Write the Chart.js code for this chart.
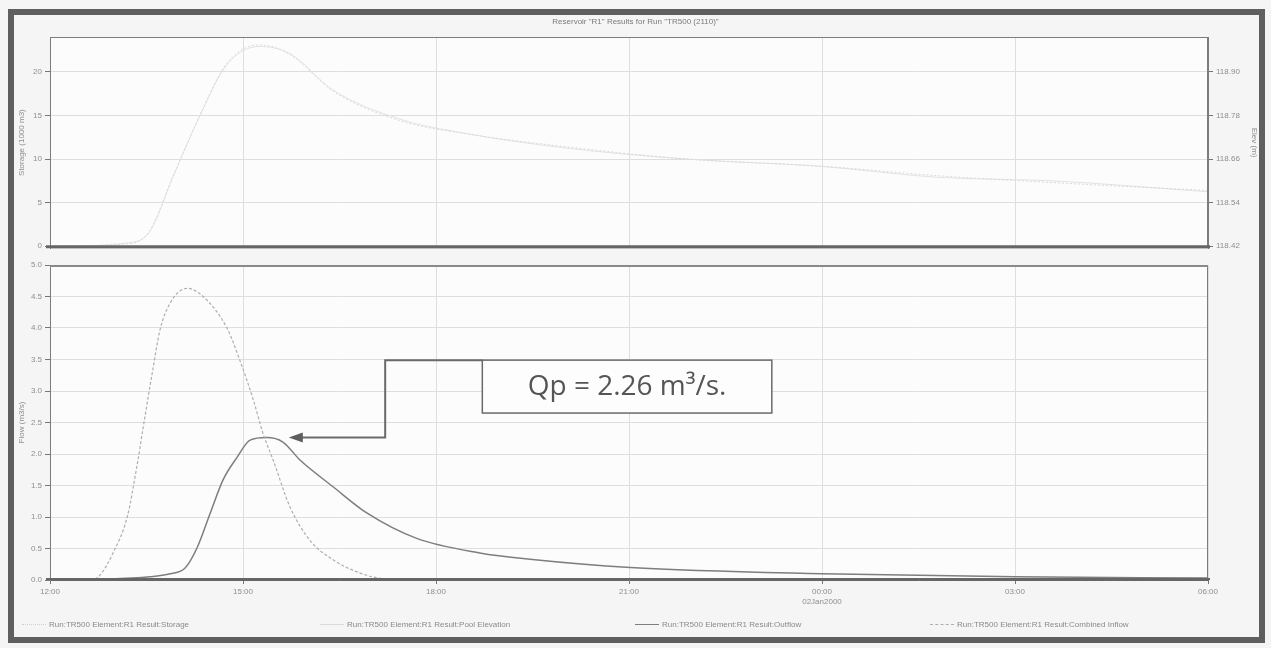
<!DOCTYPE html>
<html><head><meta charset="utf-8">
<script src="https://cdn.jsdelivr.net/npm/chart.js@4.4.1/dist/chart.umd.min.js"></script>
<style>
html,body{margin:0;padding:0;background:#efefef;}
#wrap{position:relative;width:1271px;height:648px;overflow:hidden;background:#f5f5f5;font-family:"Liberation Sans",Arial,sans-serif;}
#frame{position:absolute;left:8px;top:9px;width:1245px;height:622px;border:6px solid #5f5f5f;pointer-events:none;}
#title{position:absolute;left:0;width:1271px;top:17px;text-align:center;font-size:8px;color:#7a7a7a;}
#c1{position:absolute;left:0;top:0;}
#c2{position:absolute;left:0;top:256px;}
.lg{position:absolute;top:620px;font-size:8px;color:#8a8a8a;white-space:nowrap;height:10px;line-height:10px;}
.lg span.s{display:inline-block;width:24px;height:0;vertical-align:middle;margin-right:3px;}
</style></head>
<body><div id="wrap">
<canvas id="c1" width="1271" height="256"></canvas>
<canvas id="c2" width="1271" height="392"></canvas>
<div id="title"></div>
<div id="legend"></div>
<div id="frame"></div>
</div>
<script>
// ---- data (time in hours from start) ----
const chartTitle = 'Reservoir "R1" Results for Run "TR500 (2110)"';
const xTickLabels = ['12:00','15:00','18:00','21:00','00:00','03:00','06:00'];
const xDateLabel = '02Jan2000';
const storageTicks = [0,5,10,15,20];
const elevTicks = [118.42,118.54,118.66,118.78,118.90];
const flowTicks = [0,0.5,1,1.5,2,2.5,3,3.5,4,4.5,5];

const storageTime = [0,1.24,1.55,1.91,2.33,2.75,3.26,3.73,4.4,5.44,6.48,8.04,9.9,11.97,13.79,15.59,18];
const storage     = [0,0.3,1.8,8.0,15.0,21.0,23.1,22,17.8,14.4,12.9,11.4,10,9.2,8.1,7.3,6.4];
const elevation   = [118.42,118.43,118.46,118.61,118.78,118.92,118.97,118.95,118.85,118.77,118.73,118.69,118.66,118.64,118.61,118.60,118.57];

const inflowTime = [0,0.62,0.78,0.98,1.2,1.35,1.45,1.59,1.71,1.87,2.13,2.38,2.75,2.95,3.16,3.31,3.47,3.73,4.04,4.4,4.82,5.18,5.75,12,18];
const inflow     = [0,0,0.08,0.43,1.0,1.8,2.43,3.29,3.97,4.4,4.63,4.5,4.0,3.49,2.86,2.33,1.9,1.16,0.63,0.32,0.11,0.02,0,0,0];

const outflowTime = [0,0.78,1.55,1.87,2.1,2.29,2.49,2.69,2.91,3.11,3.37,3.62,3.89,4.4,4.93,5.7,6.68,7.46,9.02,12.0,15.0,18.0];
const outflow     = [0,0.01,0.05,0.1,0.19,0.52,1.06,1.59,1.95,2.22,2.26,2.19,1.9,1.48,1.06,0.66,0.43,0.33,0.2,0.1,0.05,0.03];

const seriesNames = [
  'Run:TR500 Element:R1 Result:Storage',
  'Run:TR500 Element:R1 Result:Pool Elevation',
  'Run:TR500 Element:R1 Result:Outflow',
  'Run:TR500 Element:R1 Result:Combined Inflow'
];

const pts = (ts, vs) => ts.map((t,i)=>({x:t,y:vs[i]}));
const tickFont = {family:'"Liberation Sans", Arial, sans-serif', size:8};
const tickColor = '#8e8e8e';
const gridColor = '#dedede';

document.getElementById('title').textContent = chartTitle;

const panelPlugin = {
  id:'panel',
  beforeDraw(chart){
    const {ctx, chartArea:a} = chart;
    ctx.save(); ctx.fillStyle='#fcfcfc';
    ctx.fillRect(a.left,a.top,a.right-a.left,a.bottom-a.top); ctx.restore();
  },
  afterDraw(chart, args, opts){
    const {ctx, chartArea:a} = chart;
    ctx.save();
    ctx.strokeStyle='#7c7c7c'; ctx.lineWidth=1;
    ctx.strokeRect(a.left+0.5,a.top+0.5,a.right-a.left-1,a.bottom-a.top-1);
    ctx.strokeStyle=opts.topColor||'#7c7c7c'; ctx.lineWidth=opts.topWidth||1;
    ctx.beginPath(); ctx.moveTo(a.left,a.top+ (opts.topWidth||1)/2); ctx.lineTo(a.right,a.top+(opts.topWidth||1)/2); ctx.stroke();
    ctx.strokeStyle=opts.bottomColor||'#666'; ctx.lineWidth=opts.bottomWidth||2;
    ctx.beginPath(); ctx.moveTo(a.left-4,a.bottom-(opts.bottomWidth||2)/2); ctx.lineTo(a.right+2,a.bottom-(opts.bottomWidth||2)/2); ctx.stroke();
    ctx.restore();
  }
};

// ---- top panel: storage & pool elevation ----
new Chart(document.getElementById('c1'), {
  type:'line',
  data:{datasets:[
    {label:seriesNames[0], data:pts(storageTime,storage), yAxisID:'y', borderColor:'#d9d9d9', borderWidth:1, borderDash:[2,2], pointRadius:0, cubicInterpolationMode:'monotone'},
    {label:seriesNames[1], data:pts(storageTime,elevation), yAxisID:'y2', borderColor:'#e2e2e2', borderWidth:1, pointRadius:0, cubicInterpolationMode:'monotone'}
  ]},
  options:{
    responsive:false, animation:false, events:[],
    layout:{padding:{left:0,right:0,top:37,bottom:1}},
    plugins:{legend:{display:false}, tooltip:{enabled:false}, panel:{bottomWidth:3, bottomColor:'#666'}},
    scales:{
      x:{type:'linear', min:0, max:18, ticks:{display:false, stepSize:3}, grid:{color:gridColor, drawTicks:false}, border:{display:false}, afterFit:s=>{s.height=0;}},
      y:{position:'left', min:-0.22, max:24,
         afterBuildTicks:s=>{s.ticks=storageTicks.map(v=>({value:v}));},
         ticks:{font:tickFont, color:tickColor, padding:3, callback:v=>String(v)},
         grid:{color:gridColor, tickLength:5, tickColor:'#777'}, border:{color:'#7c7c7c'},
         title:{display:true, text:'Storage (1000 m3)', font:tickFont, color:tickColor, padding:{top:17,bottom:0}},
         afterFit:s=>{s.width=50;}},
      y2:{position:'right', min:118.4147, max:118.996,
         afterBuildTicks:s=>{s.ticks=elevTicks.map(v=>({value:v}));},
         ticks:{font:tickFont, color:tickColor, padding:3, callback:v=>Number(v).toFixed(2)},
         grid:{drawOnChartArea:false, tickLength:5, tickColor:'#777'}, border:{color:'#7c7c7c'},
         title:{display:true, text:'Elev (m)', font:tickFont, color:tickColor, padding:{top:12,bottom:0}},
         afterFit:s=>{s.width=63;}}
    }
  },
  plugins:[panelPlugin]
});

// ---- annotation plugin for bottom panel ----
const annotationPlugin = {
  id:'qpnote',
  afterDatasetsDraw(chart){
    const {ctx, scales:{x,y}} = chart;
    const peak = Math.max(...outflow);
    const pi = outflow.indexOf(peak);
    const px = x.getPixelForValue(outflowTime[pi]), py = y.getPixelForValue(peak);
    const bl = x.getPixelForValue(6.72), br = x.getPixelForValue(11.22);
    const bt = y.getPixelForValue(3.49), bb = y.getPixelForValue(2.65);
    const ex = x.getPixelForValue(5.21);
    const tipX = px + 22, tipY = py;
    ctx.save();
    ctx.strokeStyle='#6a6a6a'; ctx.lineWidth=2;
    ctx.beginPath();
    ctx.moveTo(bl,bt); ctx.lineTo(ex,bt); ctx.lineTo(ex,tipY); ctx.lineTo(tipX+12,tipY);
    ctx.stroke();
    ctx.fillStyle='#5e5e5e';
    ctx.beginPath(); ctx.moveTo(tipX,tipY); ctx.lineTo(tipX+14,tipY-5); ctx.lineTo(tipX+14,tipY+5); ctx.closePath(); ctx.fill();
    ctx.fillStyle='#fdfdfd'; ctx.fillRect(bl,bt,br-bl,bb-bt);
    ctx.strokeStyle='#6a6a6a'; ctx.lineWidth=1.5; ctx.strokeRect(bl,bt,br-bl,bb-bt);
    ctx.fillStyle='#555'; ctx.font='28px "Open Sans", sans-serif';
    ctx.textAlign='center'; ctx.textBaseline='middle';
    ctx.fillText('Qp = '+peak.toFixed(2)+' m\u00B3/s.', (bl+br)/2, (bt+bb)/2);
    ctx.restore();
  }
};

// ---- bottom panel: flows ----
new Chart(document.getElementById('c2'), {
  type:'line',
  data:{datasets:[
    {label:seriesNames[3], data:pts(inflowTime,inflow), borderColor:'#aeaeae', borderWidth:1.2, borderDash:[3,2], pointRadius:0, cubicInterpolationMode:'monotone'},
    {label:seriesNames[2], data:pts(outflowTime,outflow), borderColor:'#7e7e7e', borderWidth:1.5, pointRadius:0, cubicInterpolationMode:'monotone'}
  ]},
  options:{
    responsive:false, animation:false, events:[],
    layout:{padding:{left:0,right:63,top:9,bottom:30}},
    plugins:{legend:{display:false}, tooltip:{enabled:false}, panel:{topWidth:2, topColor:'#8a8a8a', bottomWidth:2, bottomColor:'#666'}},
    scales:{
      x:{type:'linear', min:0, max:18,
         afterBuildTicks:s=>{s.ticks=xTickLabels.map((l,i)=>({value:i*3}));},
         ticks:{font:tickFont, color:tickColor, padding:3, maxRotation:0, autoSkip:false,
                callback:(v,i)=> xTickLabels[i]==='00:00' ? [xTickLabels[i], xDateLabel] : xTickLabels[i]},
         grid:{color:gridColor, tickLength:4, tickColor:'#777'}, border:{color:'#666'},
         afterFit:s=>{s.height=38;}},
      y:{position:'left', min:0, max:5,
         afterBuildTicks:s=>{s.ticks=flowTicks.map(v=>({value:v}));},
         ticks:{font:tickFont, color:tickColor, padding:3, callback:v=>Number(v).toFixed(1)},
         grid:{color:gridColor, tickLength:5, tickColor:'#777'}, border:{color:'#7c7c7c'},
         title:{display:true, text:'Flow (m3/s)', font:tickFont, color:tickColor, padding:{top:17,bottom:0}},
         afterFit:s=>{s.width=50;}}
    }
  },
  plugins:[panelPlugin, annotationPlugin]
});

// ---- legend ----
const legendPos = [22, 320, 635, 930];
const legendStyle = [
  'border-top:1px dotted #d0d0d0',
  'border-top:1px solid #dadada',
  'border-top:1.5px solid #7e7e7e',
  'border-top:1.2px dashed #aeaeae'
];
const lg = document.getElementById('legend');
seriesNames.forEach((n,i)=>{
  const d = document.createElement('div');
  d.className='lg'; d.style.left=legendPos[i]+'px';
  const s = document.createElement('span'); s.className='s'; s.setAttribute('style', legendStyle[i]);
  d.appendChild(s); d.appendChild(document.createTextNode(n));
  lg.appendChild(d);
});
</script>
</body></html>
